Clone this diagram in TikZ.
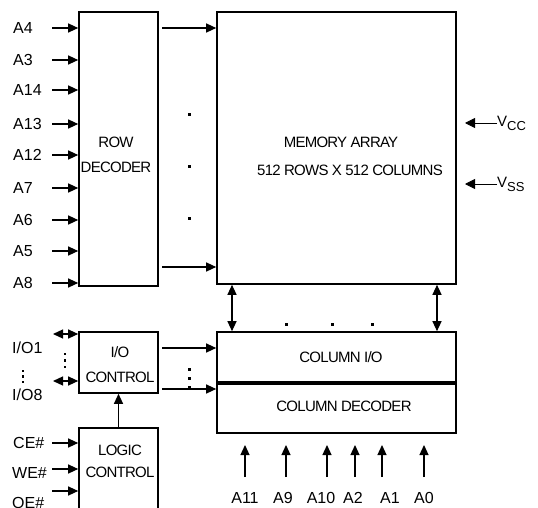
\documentclass[tikz,border=0pt]{standalone}
\usepackage{fontspec}
\setmainfont{Liberation Sans}
\newfontfamily\narrowfont{Liberation Sans}[LetterSpace=-5]
\usetikzlibrary{arrows.meta,positioning}

\begin{document}
\begin{tikzpicture}[
  x=1pt, y=-1pt,
  blk/.style={draw, line width=1.6pt, inner sep=0pt},
  txt/.style={font=\fontsize{15}{25}\selectfont\narrowfont, align=center, inner sep=0pt},
  pin/.style={font=\fontsize{16}{18}\selectfont, anchor=west, inner sep=0pt},
  arr/.style={-{Triangle[length=10pt,width=9pt]}, line width=1.2pt},
  dbl/.style={{Triangle[length=10pt,width=9pt]}-{Triangle[length=10pt,width=9pt]}, line width=1.2pt},
  dot/.style={fill, minimum size=3pt, inner sep=0pt},
]
\useasboundingbox (0,0) rectangle (538,508);

% blocks
\node[blk, minimum width=79pt, minimum height=274pt] (rowdec) at (118.5,149) {};
\node[blk, minimum width=239pt, minimum height=272pt] (mem) at (336.5,148) {};
\node[blk, minimum width=239pt, minimum height=50pt] (colio) at (336.5,357) {};
\node[blk, minimum width=239pt, minimum height=51pt] (coldec) at (336.5,407.5) {};
\node[blk, minimum width=79pt, minimum height=61pt] (ioctl) at (118.5,362.5) {};
\node[blk, minimum width=79pt, minimum height=92pt] (logic) at (118.5,474) {};
\draw[line width=3.5pt] (colio.south west) -- (colio.south east);

% block texts
\node[txt] (rowtxt) at (116,155) {ROW\\DECODER};
\node[txt] (memtxt1) at (341,142) {MEMORY ARRAY};
\node[txt] (memtxt2) at (350,170) {512 ROWS X 512 COLUMNS};
\node[txt] (coliotxt) at (341,357) {COLUMN I/O};
\node[txt] (coldectxt) at (344,406) {COLUMN DECODER};
\node[txt] (ioctltxt) at (120,364.5) {I/O\\CONTROL};
\node[txt, font=\fontsize{15}{22}\selectfont\narrowfont] (logictxt) at (120,461) {LOGIC\\CONTROL};

% row address pins
\foreach \lab/\yy [count=\i] in {A4/28,A3/60,A14/90,A13/124,A12/155,A7/188,A6/220,A5/251,A8/283} {
  \node[pin] (r\i) at (13,\yy) {\lab};
  \coordinate (rs\i) at (52,\yy);
  \draw[arr] (rs\i) -- (rs\i -| rowdec.west);
}

% row decoder to array
\coordinate (w1) at (162,28);
\coordinate (w2) at (162,267);
\draw[arr] (w1) -- (w1 -| mem.west);
\draw[arr] (w2) -- (w2 -| mem.west);
\node[dot] (d1) at (189,115) {};
\node[dot] (d2) at (189,166) {};
\node[dot] (d3) at (189,218) {};

% power
\node[pin, font=\fontsize{15}{18}\selectfont] (vcc) at (497,123) {V\raisebox{-4pt}{\fontsize{13}{13}\selectfont CC}};
\node[pin, font=\fontsize{15}{18}\selectfont] (vss) at (497,184) {V\raisebox{-4pt}{\fontsize{13}{13}\selectfont SS}};
\coordinate (vcct) at (465,123);
\coordinate (vsst) at (465,184);
\draw[-{Triangle[length=10pt,width=10pt]}, line width=0.8pt] (vcc.west) -- (vcct);
\draw[-{Triangle[length=10pt,width=10pt]}, line width=0.8pt] (vss.west) -- (vsst);

% array to column I/O
\coordinate (b1) at (232,0);
\coordinate (b2) at (437,0);
\draw[dbl] (mem.south -| b1) -- (colio.north -| b1);
\draw[dbl] (mem.south -| b2) -- (colio.north -| b2);
\node[dot] (d4) at (286,324) {};
\node[dot] (d5) at (332,324) {};
\node[dot] (d6) at (372,324) {};

% I/O pins
\node[pin] (io1) at (12,348) {I/O1};
\node[pin] (io8) at (12,395) {I/O8};
\node[dot, minimum size=2.5pt] (d7) at (23,371) {};
\node[dot, minimum size=2.5pt] (d8) at (23,376.5) {};
\node[dot, minimum size=2.5pt] (d9) at (23,382) {};
\coordinate (q1) at (53,334);
\coordinate (q2) at (53,381);
\draw[dbl] (q1) -- (q1 -| ioctl.west);
\draw[dbl] (q2) -- (q2 -| ioctl.west);
\node[dot, minimum size=2.5pt] (d10) at (65,354) {};
\node[dot, minimum size=2.5pt] (d11) at (65,360.5) {};
\node[dot, minimum size=2.5pt] (d12) at (65,367) {};

% I/O control to column blocks
\coordinate (e1) at (162,348);
\coordinate (e2) at (162,389);
\draw[arr] (e1) -- (e1 -| colio.west);
\draw[arr] (e2) -- (e2 -| coldec.west);
\node[dot] (d13) at (189,369) {};
\node[dot] (d14) at (189,378) {};
\node[dot] (d15) at (189,387) {};

% logic control
\draw[arr] (logic.north) -- (ioctl.south);
\node[pin] (ce) at (13,443) {CE\#};
\node[pin] (we) at (12,473) {WE\#};
\node[pin] (oe) at (12,503) {OE\#};
\coordinate (g1) at (52,443);
\coordinate (g2) at (52,469);
\coordinate (g3) at (52,491);
\draw[arr] (g1) -- (g1 -| logic.west);
\draw[arr] (g2) -- (g2 -| logic.west);
\draw[arr] (g3) -- (g3 -| logic.west);

% column address pins
\foreach \lab/\xa/\xl [count=\i] in {A11/245/245,A9/286/283,A10/327/321,A2/355/353,A1/382/390,A0/424/424} {
  \node[pin, anchor=center] (c\i) at (\xl,498) {\lab};
  \coordinate (cs\i) at (\xa,477);
  \draw[arr] (cs\i) -- (\xa,445);
}
\end{tikzpicture}
\end{document}
